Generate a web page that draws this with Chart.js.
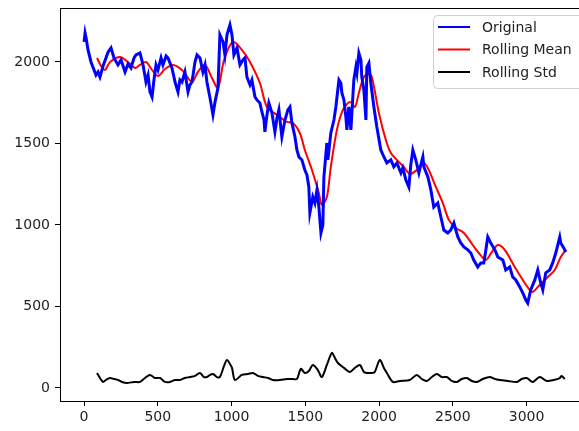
<!DOCTYPE html>
<html>
<head>
<meta charset="utf-8">
<script src="https://cdn.jsdelivr.net/npm/chart.js@4.4.1/dist/chart.umd.min.js"></script>
<style>
  html, body { margin: 0; padding: 0; background: #fff; overflow: hidden; }
  #wrap { width: 579px; height: 431px; overflow: hidden; }
</style>
</head>
<body>
<div id="wrap"><canvas id="myChart" width="600" height="431"></canvas></div>
<script>
// Values
const origIdx = [0, 7, 14, 27, 47, 68, 81, 95, 108, 129, 149, 163, 183, 203, 230, 251, 278, 298, 318, 339, 352, 379, 400, 420, 434, 447, 461, 474, 488, 501, 522, 535, 556, 569, 596, 617, 637, 650, 664, 684, 705, 718, 732, 752, 766, 786, 806, 820, 833, 854, 874, 888, 908, 921, 942, 955, 969, 989, 1003, 1016, 1037, 1057, 1077, 1091, 1104, 1125, 1138, 1159, 1172, 1192, 1206, 1220, 1226, 1240, 1253, 1274, 1294, 1308, 1321, 1341, 1362, 1382, 1396, 1409, 1430, 1443, 1457, 1477, 1497, 1511, 1524, 1531, 1551, 1565, 1579, 1592, 1606, 1619, 1626, 1646, 1653, 1673, 1694, 1707, 1728, 1741, 1748, 1762, 1775, 1782, 1795, 1809, 1829, 1843, 1850, 1863, 1877, 1883, 1897, 1911, 1917, 1931, 1944, 1965, 1985, 2012, 2033, 2053, 2080, 2100, 2121, 2148, 2161, 2182, 2202, 2215, 2229, 2249, 2270, 2283, 2297, 2304, 2331, 2351, 2371, 2398, 2419, 2439, 2466, 2486, 2507, 2534, 2554, 2575, 2602, 2622, 2642, 2669, 2690, 2710, 2724, 2737, 2757, 2785, 2805, 2839, 2859, 2886, 2906, 2927, 2954, 2974, 2995, 3008, 3028, 3056, 3076, 3096, 3110, 3130, 3157, 3177, 3198, 3225, 3232, 3252, 3266];
const origVal = [2123, 2178, 2147, 2074, 2000, 1951, 1920, 1939, 1908, 1975, 2025, 2061, 2086, 2025, 1982, 2012, 1939, 1988, 1963, 2025, 2043, 2055, 1982, 1877, 1920, 1816, 1785, 1890, 1982, 1951, 2025, 1982, 2037, 2025, 1963, 1877, 1816, 1890, 1877, 1939, 1816, 1859, 1877, 2000, 2043, 2025, 1939, 1982, 1877, 1779, 1675, 1755, 1841, 2166, 2123, 2043, 2166, 2227, 2166, 2043, 2086, 1982, 2012, 2025, 1908, 1859, 1890, 1785, 1767, 1748, 1693, 1644, 1571, 1675, 1748, 1687, 1571, 1656, 1706, 1540, 1644, 1706, 1724, 1626, 1540, 1460, 1417, 1399, 1337, 1307, 1233, 1074, 1172, 1135, 1215, 1110, 951, 1000, 1294, 1503, 1399, 1564, 1644, 1724, 1890, 1871, 1810, 1767, 1662, 1583, 1724, 1583, 1890, 1969, 1933, 2055, 2012, 1908, 1828, 1644, 1969, 1994, 1871, 1724, 1601, 1460, 1417, 1380, 1399, 1356, 1380, 1319, 1350, 1276, 1233, 1368, 1460, 1399, 1319, 1368, 1417, 1356, 1294, 1215, 1110, 1135, 1049, 969, 951, 969, 1012, 926, 890, 865, 847, 828, 785, 742, 767, 767, 847, 926, 890, 847, 804, 785, 724, 742, 681, 663, 620, 583, 540, 521, 601, 663, 724, 644, 601, 706, 724, 767, 828, 926, 890, 859, 834];

const meanIdx = [88, 115, 142, 176, 244, 298, 346, 379, 420, 461, 501, 549, 603, 664, 732, 772, 820, 867, 908, 949, 1009, 1070, 1125, 1192, 1240, 1308, 1375, 1416, 1463, 1497, 1545, 1592, 1612, 1646, 1673, 1714, 1755, 1802, 1836, 1863, 1897, 1931, 1951, 1999, 2046, 2080, 2121, 2168, 2209, 2256, 2304, 2337, 2385, 2432, 2473, 2520, 2575, 2635, 2676, 2724, 2764, 2805, 2852, 2920, 2974, 3022, 3042, 3089, 3144, 3191, 3232, 3266];
const meanVal = [2025, 1975, 1951, 2000, 2031, 2000, 1963, 1982, 2000, 1951, 1914, 1957, 1982, 1951, 1877, 1939, 1982, 1902, 1841, 2012, 2123, 2074, 2000, 1871, 1724, 1675, 1632, 1626, 1564, 1460, 1337, 1196, 1123, 1172, 1356, 1583, 1706, 1755, 1724, 1810, 1908, 1926, 1908, 1687, 1521, 1442, 1399, 1356, 1313, 1337, 1380, 1337, 1233, 1135, 1031, 982, 951, 877, 828, 785, 834, 877, 847, 742, 663, 601, 589, 632, 681, 724, 804, 847];

const stdIdx = [88, 108, 129, 149, 176, 203, 230, 257, 291, 339, 379, 413, 447, 481, 515, 549, 583, 617, 650, 684, 718, 752, 786, 813, 833, 854, 874, 901, 921, 949, 969, 989, 1003, 1023, 1070, 1111, 1145, 1179, 1213, 1247, 1280, 1328, 1375, 1416, 1443, 1470, 1497, 1524, 1551, 1585, 1612, 1646, 1680, 1701, 1721, 1762, 1802, 1836, 1870, 1897, 1917, 1951, 1971, 2005, 2033, 2053, 2093, 2141, 2209, 2256, 2290, 2324, 2358, 2392, 2425, 2459, 2493, 2527, 2561, 2595, 2629, 2663, 2703, 2751, 2785, 2818, 2873, 2934, 2967, 3001, 3042, 3089, 3137, 3184, 3225, 3238, 3259];
const stdVal = [92, 61, 37, 49, 61, 55, 49, 37, 31, 37, 37, 61, 80, 61, 61, 37, 37, 49, 49, 61, 67, 74, 92, 67, 67, 80, 86, 67, 67, 135, 172, 147, 123, 49, 80, 86, 92, 74, 67, 61, 49, 49, 55, 55, 55, 117, 92, 104, 141, 110, 67, 141, 215, 184, 153, 123, 98, 123, 141, 98, 92, 92, 98, 172, 123, 92, 37, 43, 49, 80, 55, 43, 67, 86, 67, 67, 43, 37, 55, 61, 43, 37, 55, 67, 55, 49, 43, 37, 55, 61, 37, 67, 43, 49, 61, 74, 55];

const xTicks = [0, 500, 1000, 1500, 2000, 2500, 3000];
const yTicks = [0, 500, 1000, 1500, 2000];

function pairs(xs, ys) {
    return xs.map((x, i) => ({ x: x, y: ys[i] }));
}

// frame + legend drawn by hand, matplotlib style
const framePlugin = {
    id: 'frame',
    afterDraw(chart) {
        const { ctx, chartArea } = chart;
        ctx.save();
        ctx.strokeStyle = '#000';
        ctx.lineWidth = 1;
        ctx.strokeRect(Math.round(chartArea.left) + 0.5, Math.round(chartArea.top) + 0.5,
            Math.round(chartArea.right - chartArea.left), Math.round(chartArea.bottom - chartArea.top));

        // legend box in upper right
        const bx = chartArea.right - 157, by = chartArea.top + 7, bw = 150, bh = 73;
        ctx.beginPath();
        ctx.roundRect(bx + 0.5, by + 0.5, bw, bh, 4);
        ctx.fillStyle = 'rgba(255,255,255,0.8)';
        ctx.fill();
        ctx.strokeStyle = '#d0d0d0';
        ctx.stroke();

        ctx.font = '14px "DejaVu Sans"';
        ctx.textBaseline = 'middle';
        chart.data.datasets.forEach((ds, i) => {
            const y = by + 12 + i * 22.5;
            ctx.beginPath();
            ctx.strokeStyle = ds.borderColor;
            ctx.lineWidth = 2;
            ctx.moveTo(bx + 5, y);
            ctx.lineTo(bx + 37, y);
            ctx.stroke();
            ctx.fillStyle = '#222';
            ctx.fillText(ds.label, bx + 49, y + 1);
        });
        ctx.restore();
    }
};

function noPad(scale) {
    scale.paddingTop = 0;
    scale.paddingBottom = 0;
    scale.paddingLeft = 0;
    scale.paddingRight = 0;
}

const ctx = document.getElementById('myChart').getContext('2d');
new Chart(ctx, {
    type: 'line',
    data: {
        datasets: [
            {
                label: 'Original',
                data: pairs(origIdx, origVal),
                borderColor: '#0000ff',
                borderWidth: 3,
                pointRadius: 0,
                tension: 0
            },
            {
                label: 'Rolling Mean',
                data: pairs(meanIdx, meanVal),
                borderColor: '#ff0000',
                borderWidth: 2,
                pointRadius: 0,
                tension: 0.3
            },
            {
                label: 'Rolling Std',
                data: pairs(stdIdx, stdVal),
                borderColor: '#000000',
                borderWidth: 2,
                pointRadius: 0,
                tension: 0.3
            }
        ]
    },
    options: {
        responsive: false,
        animation: false,
        devicePixelRatio: 1,
        layout: { padding: { top: 8, right: 10, left: 0, bottom: 0 } },
        plugins: {
            legend: { display: false },
            tooltip: { enabled: false }
        },
        scales: {
            x: {
                type: 'linear',
                min: -163,
                max: 3430,
                afterBuildTicks: (scale) => { scale.ticks = xTicks.map(v => ({ value: v })); },
                afterFit: (scale) => { scale.height = 30; noPad(scale); },
                grid: { drawOnChartArea: false, drawTicks: true, tickLength: 5, tickColor: '#000' },
                border: { display: false },
                ticks: {
                    color: '#222',
                    padding: 3,
                    maxRotation: 0,
                    callback: (v) => String(v),
                    font: { family: 'DejaVu Sans', size: 14 }
                }
            },
            y: {
                type: 'linear',
                min: -80,
                max: 2331,
                afterBuildTicks: (scale) => { scale.ticks = yTicks.map(v => ({ value: v })); },
                afterFit: (scale) => { scale.width = 60; noPad(scale); },
                grid: { drawOnChartArea: false, drawTicks: true, tickLength: 5, tickColor: '#000' },
                border: { display: false },
                ticks: {
                    color: '#222',
                    padding: 5,
                    callback: (v) => String(v),
                    font: { family: 'DejaVu Sans', size: 14 }
                }
            }
        }
    },
    plugins: [framePlugin]
});
</script>
</body>
</html>
